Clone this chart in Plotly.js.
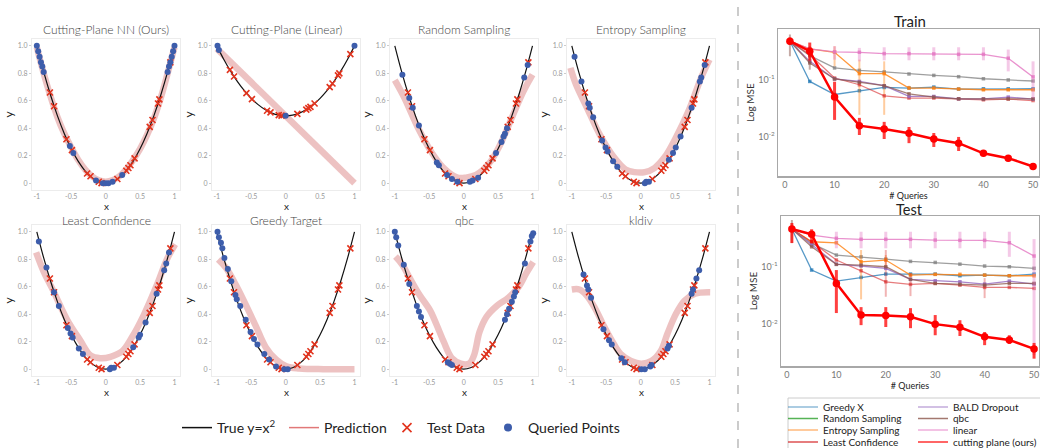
<!DOCTYPE html>
<html>
<head>
<meta charset="utf-8">
<script src="https://cdn.plot.ly/plotly-3.0.1.min.js"></script>
<style>html,body{margin:0;padding:0;background:#fff}#chart{width:1040px;height:448px}</style>
</head>
<body>
<div id="chart"></div>
<script>
// ---------------- DATA: left grid (toy regression y = x^2) ----------------
const curveX = [-1,-0.9,-0.8,-0.7,-0.6,-0.5,-0.4,-0.3,-0.2,-0.1,0,0.1,0.2,0.3,0.4,0.5,0.6,0.7,0.8,0.9,1];
const curveY = [1,0.81,0.64,0.49,0.36,0.25,0.16,0.09,0.04,0.01,0,0.01,0.04,0.09,0.16,0.25,0.36,0.49,0.64,0.81,1];
const curveYLinear = [1,0.903,0.816,0.74,0.674,0.618,0.572,0.536,0.51,0.495,0.49,0.495,0.51,0.536,0.572,0.618,0.674,0.74,0.816,0.903,1];

const testX = [-0.81,-0.75,-0.57,-0.49,-0.27,-0.22,-0.1,-0.06,0.17,0.3,0.33,0.36,0.42,0.64,0.68,0.76,0.78,0.94];
const testY = [0.66,0.56,0.32,0.24,0.07,0.05,0.01,0.0,0.03,0.09,0.11,0.13,0.18,0.41,0.46,0.58,0.61,0.88];
const testYLinear = [0.825,0.777,0.656,0.612,0.527,0.515,0.495,0.492,0.505,0.536,0.546,0.556,0.58,0.699,0.726,0.785,0.8,0.94];

const cpnnQueriedX = [-1,-0.98,-0.96,-0.94,-0.92,-0.9,-0.52,-0.47,-0.14,-0.04,0,0.04,0.1,0.24,0.9,0.92,0.94,0.96,0.98,1];
const cpnnQueriedY = [1,0.96,0.92,0.88,0.85,0.81,0.27,0.22,0.02,0,0,0,0.01,0.06,0.81,0.85,0.88,0.92,0.96,1];
const cpnnPredX = [-1,-0.9,-0.8,-0.7,-0.6,-0.5,-0.4,-0.3,-0.2,-0.1,0,0.1,0.2,0.3,0.4,0.5,0.6,0.7,0.8,0.9,1];
const cpnnPredY = [0.99,0.8,0.63,0.48,0.36,0.26,0.17,0.1,0.05,0.02,0.01,0.02,0.05,0.1,0.17,0.25,0.35,0.47,0.62,0.8,0.99];

const linQueriedX = [-0.99,-0.97,0,1];
const linQueriedY = [1.0,0.97,0.49,1.0];
const linPredX = [-1,1];
const linPredY = [0.98,0];

const randQueriedX = [-0.89,-0.79,-0.74,-0.65,-0.39,-0.36,-0.24,-0.17,-0.09,0.09,0.13,0.21,0.47,0.55,0.58,0.6,0.63,0.88,0.93];
const randQueriedY = [0.79,0.62,0.55,0.42,0.15,0.13,0.06,0.03,0.01,0.01,0.02,0.04,0.22,0.3,0.34,0.36,0.4,0.77,0.86];
const randPredX = [-1,-0.86,-0.66,-0.46,-0.27,-0.09,0.03,0.18,0.38,0.53,0.72,0.87,1.0];
const randPredY = [0.75,0.62,0.4,0.22,0.1,0.04,0.04,0.06,0.15,0.28,0.5,0.67,0.79];

const entQueriedX = [-0.96,-0.86,-0.76,-0.74,-0.69,-0.56,-0.51,-0.48,-0.4,-0.34,0.06,0.08,0.12,0.41,0.47,0.51,0.58,0.74,0.86,0.88,0.93];
const entQueriedY = [0.92,0.74,0.58,0.55,0.48,0.31,0.26,0.23,0.16,0.12,0.0,0.01,0.01,0.17,0.22,0.26,0.34,0.55,0.74,0.77,0.86];
const entPredX = [-1.02,-0.94,-0.79,-0.59,-0.39,-0.22,-0.09,0.06,0.2,0.35,0.5,0.7,0.88,1.0];
const entPredY = [0.84,0.72,0.56,0.35,0.19,0.1,0.08,0.08,0.11,0.19,0.32,0.53,0.77,0.9];

const lcQueriedX = [-0.97,-0.86,-0.75,-0.68,-0.55,-0.51,-0.48,-0.39,-0.33,0.06,0.08,0.12,0.4,0.48,0.5,0.58,0.74,0.85,0.88,0.92];
const lcQueriedY = [0.93,0.74,0.56,0.46,0.3,0.26,0.23,0.15,0.11,0,0.01,0.01,0.16,0.23,0.25,0.34,0.55,0.72,0.77,0.85];
const lcPredX = [-1.01,-0.9,-0.76,-0.56,-0.37,-0.22,-0.08,0.07,0.24,0.38,0.55,0.75,0.89,1.01];
const lcPredY = [0.85,0.71,0.57,0.36,0.21,0.1,0.08,0.09,0.13,0.23,0.39,0.62,0.8,0.91];

const gtQueriedX = [-0.99,-0.97,-0.94,-0.92,-0.89,-0.84,-0.79,-0.73,-0.71,-0.66,-0.58,-0.51,-0.46,-0.41,-0.31,-0.24,-0.14,-0.02,0.03];
const gtQueriedY = [1.0,0.96,0.92,0.88,0.81,0.73,0.64,0.54,0.51,0.46,0.36,0.27,0.22,0.18,0.11,0.07,0.02,0,0];
const gtPredX = [-0.98,-0.87,-0.73,-0.58,-0.43,-0.29,-0.14,0.01,0.2,0.55,1.0];
const gtPredY = [0.8,0.74,0.62,0.47,0.31,0.16,0.07,0.02,0.005,0,0];

const qbcQueriedX = [-1,-0.98,-0.95,-0.87,-0.79,-0.68,-0.65,-0.62,-0.23,-0.2,-0.17,0.6,0.63,0.66,0.7,0.73,0.75,0.89,0.97,0.99,1.01];
const qbcQueriedY = [1,0.96,0.9,0.76,0.62,0.46,0.42,0.38,0.05,0.04,0.03,0.36,0.4,0.44,0.49,0.53,0.56,0.77,0.93,0.97,0.99];
const qbcPredX = [-0.99,-0.89,-0.79,-0.64,-0.49,-0.39,-0.29,-0.17,-0.04,0.08,0.15,0.23,0.33,0.48,0.65,0.8,0.9,1.01];
const qbcPredY = [0.82,0.76,0.67,0.54,0.43,0.32,0.2,0.08,0.04,0.04,0.1,0.27,0.38,0.46,0.52,0.6,0.69,0.78];

const kldQueriedX = [-0.83,-0.78,-0.76,-0.72,-0.54,-0.46,-0.42,-0.28,-0.23,0.01,0.06,0.14,0.16,0.39,0.41,0.74,0.76,0.81,0.85];
const kldQueriedY = [0.69,0.61,0.58,0.52,0.29,0.21,0.18,0.08,0.05,0,0,0.02,0.03,0.15,0.17,0.55,0.58,0.66,0.72];
const kldPredX = [-1,-0.89,-0.79,-0.67,-0.54,-0.42,-0.29,-0.14,0.01,0.16,0.29,0.39,0.51,0.64,0.79,1.01];
const kldPredY = [0.58,0.58,0.54,0.45,0.32,0.21,0.11,0.06,0.04,0.06,0.13,0.26,0.4,0.5,0.55,0.56];

const panelTitles = ['Cutting-Plane NN (Ours)','Cutting-Plane (Linear)','Random Sampling','Entropy Sampling','Least Confidence','Greedy Target','qbc','kldiv'];
const xTickVals = [-1,-0.5,0,0.5,1];
const xTickText = ['-1','-0.5','0','0.5','1'];
const yTickVals = [0,0.2,0.4,0.6,0.8,1];
const yTickText = ['0','0.2','0.4','0.6','0.8','1.0'];

// ---------------- DATA: right panels (Log MSE vs # queries) ----------------
const queries = [1,5,10,15,20,25,30,35,40,45,50];
const seriesNames = ['Greedy X','Random Sampling','Entropy Sampling','Least Confidence','BALD Dropout','qbc','linear','cutting plane (ours)'];

const trainGreedyX   = [0.474,0.0933,0.055,0.064,0.0731,0.0714,0.0743,0.0686,0.0694,0.0694,0.0694];
const trainRandom    = [0.474,0.265,0.161,0.146,0.137,0.126,0.119,0.113,0.104,0.099,0.095];
const trainEntropy   = [0.474,0.348,0.303,0.128,0.128,0.0714,0.0714,0.0686,0.0666,0.0666,0.0666];
const trainEntropyHi = [0.474,0.348,0.387,0.225,0.21,0.0784,0.0714,0.0686,0.0666,0.0666,0.0666];
const trainEntropyLo = [0.474,0.348,0.172,0.0242,0.0242,0.0666,0.0714,0.0686,0.0666,0.0666,0.0666];
const trainLeastConf = [0.474,0.276,0.107,0.0816,0.0522,0.0476,0.0476,0.0462,0.0444,0.0457,0.0431];
const trainBald      = [0.474,0.21,0.103,0.0933,0.0784,0.0508,0.0508,0.0462,0.0462,0.0495,0.0457];
const trainQbc       = [0.474,0.197,0.103,0.0896,0.0784,0.0566,0.0495,0.0462,0.0457,0.0462,0.0462];
const trainQbcHi     = [0.622,0.387,0.103,0.0896,0.0784,0.0566,0.0495,0.0462,0.0457,0.0462,0.0462];
const trainQbcLo     = [0.258,0.15,0.103,0.0896,0.0784,0.0566,0.0495,0.0462,0.0457,0.0462,0.0462];
const trainLinear    = [0.474,0.348,0.308,0.303,0.287,0.287,0.284,0.279,0.279,0.238,0.112];
const trainLinearHi  = [0.474,0.36,0.387,0.362,0.371,0.371,0.371,0.371,0.371,0.338,0.21];
const trainLinearLo  = [0.474,0.33,0.225,0.21,0.219,0.219,0.219,0.219,0.219,0.14,0.0476];
const trainCutting   = [0.474,0.316,0.0495,0.0156,0.0137,0.0115,0.0091,0.0077,0.0051,0.0042,0.003];
const trainCuttingHi = [0.55,0.449,0.0922,0.0214,0.0182,0.0148,0.0116,0.0099,0.0056,0.0044,0.0034];
const trainCuttingLo = [0.414,0.216,0.0197,0.0107,0.0091,0.0077,0.0066,0.0056,0.0046,0.0037,0.0027];

const testGreedyX    = [0.455,0.0876,0.0563,0.0653,0.0746,0.0746,0.0746,0.0697,0.0716,0.0697,0.0746];
const testRandom     = [0.455,0.256,0.16,0.149,0.136,0.124,0.119,0.111,0.103,0.1,0.094];
const testEntropy    = [0.455,0.273,0.262,0.122,0.131,0.0716,0.0737,0.0737,0.0716,0.0697,0.0697];
const testEntropyHi  = [0.455,0.273,0.262,0.196,0.16,0.0716,0.0737,0.0737,0.0716,0.0697,0.0697];
const testEntropyLo  = [0.455,0.273,0.262,0.027,0.103,0.0716,0.0737,0.0737,0.0716,0.0697,0.0697];
const testLeastConf  = [0.455,0.273,0.131,0.0851,0.0547,0.0493,0.0513,0.0479,0.0437,0.0437,0.042];
const testLeastConfHi= [0.455,0.273,0.131,0.0851,0.196,0.0776,0.0513,0.0479,0.0635,0.0437,0.042];
const testLeastConfLo= [0.455,0.273,0.131,0.0851,0.03,0.0308,0.0513,0.0479,0.0284,0.0437,0.042];
const testBald       = [0.455,0.239,0.111,0.103,0.094,0.0603,0.057,0.0547,0.0499,0.0563,0.0499];
const testQbc        = [0.455,0.223,0.11,0.107,0.1,0.0603,0.0513,0.0493,0.0479,0.0513,0.0513];
const testQbcHi      = [0.653,0.223,0.11,0.107,0.1,0.0603,0.0513,0.0493,0.0479,0.0513,0.0513];
const testQbcLo      = [0.259,0.223,0.11,0.107,0.1,0.0603,0.0513,0.0493,0.0479,0.0513,0.0513];
const testLinear     = [0.455,0.357,0.313,0.301,0.301,0.301,0.292,0.289,0.289,0.262,0.154];
const testLinearHi   = [0.455,0.357,0.408,0.408,0.408,0.408,0.408,0.408,0.408,0.408,0.304];
const testLinearLo   = [0.455,0.357,0.21,0.21,0.21,0.21,0.21,0.21,0.21,0.149,0.0029];
const testCutting    = [0.455,0.3675,0.0513,0.0144,0.0142,0.0134,0.01,0.0088,0.006,0.0053,0.0037];
const testCuttingHi  = [0.579,0.45,0.0876,0.0198,0.0198,0.019,0.0144,0.0117,0.0073,0.0064,0.0047];
const testCuttingLo  = [0.259,0.2565,0.0156,0.0096,0.0089,0.0085,0.0064,0.0062,0.0043,0.0045,0.0025];

// ---------------- STYLE / LAYOUT ----------------
const W = 1040, H = 448;
const RED = '#e2331d', BLUE = '#3d5dab', PRED = 'rgba(215,120,120,0.45)';
const colPx = [[32,180],[212,360],[390,538],[567,715]];
const rowPx = [[39,190],[225,376]];
const titleYPx = [30, 220.5];
const xLabelYPx = [205.5, 392];

const panels = [
  {cx:curveX, cy:curveY, px:cpnnPredX, py:cpnnPredY, tx:testX, ty:testY, qx:cpnnQueriedX, qy:cpnnQueriedY},
  {cx:curveX, cy:curveYLinear, px:linPredX, py:linPredY, tx:testX, ty:testYLinear, qx:linQueriedX, qy:linQueriedY},
  {cx:curveX, cy:curveY, px:randPredX, py:randPredY, tx:testX, ty:testY, qx:randQueriedX, qy:randQueriedY},
  {cx:curveX, cy:curveY, px:entPredX, py:entPredY, tx:testX, ty:testY, qx:entQueriedX, qy:entQueriedY},
  {cx:curveX, cy:curveY, px:lcPredX, py:lcPredY, tx:testX, ty:testY, qx:lcQueriedX, qy:lcQueriedY},
  {cx:curveX, cy:curveY, px:gtPredX, py:gtPredY, tx:testX, ty:testY, qx:gtQueriedX, qy:gtQueriedY},
  {cx:curveX, cy:curveY, px:qbcPredX, py:qbcPredY, tx:testX, ty:testY, qx:qbcQueriedX, qy:qbcQueriedY},
  {cx:curveX, cy:curveY, px:kldPredX, py:kldPredY, tx:testX, ty:testY, qx:kldQueriedX, qy:kldQueriedY}
];

const traces = [];
const layout = {
  width: W, height: H,
  margin: {l:0, r:0, t:0, b:0, autoexpand:false},
  paper_bgcolor: '#fff', plot_bgcolor: '#fff',
  font: {family: 'Lato, "Open Sans", sans-serif', color: '#333'},
  showlegend: true,
  annotations: [], shapes: []
};

panels.forEach((p, i) => {
  const n = i === 0 ? '' : String(i + 1);
  const xa = 'x' + n, ya = 'y' + n;
  const row = Math.floor(i / 4);
  const c = colPx[i % 4], r = rowPx[row];
  layout['xaxis' + n] = {
    domain: [c[0] / W, c[1] / W], anchor: ya, range: [-1.07, 1.08],
    tickvals: xTickVals, ticktext: xTickText, tickfont: {size: 7, color: '#999'},
    ticks: '', showgrid: false, zeroline: false,
    showline: true, mirror: true, linecolor: '#ececec', linewidth: 1
  };
  layout['yaxis' + n] = {
    domain: [1 - r[1] / H, 1 - r[0] / H], anchor: xa, range: [-0.05, 1.05],
    tickvals: yTickVals, ticktext: yTickText, tickfont: {size: 7, color: '#999'},
    ticks: 'outside', ticklen: 2, tickcolor: '#ccc', showgrid: false, zeroline: false,
    showline: true, mirror: true, linecolor: '#ececec', linewidth: 1,
    title: {text: 'y', font: {size: 12, color: '#222'}, standoff: 1}
  };
  layout.annotations.push({
    text: panelTitles[i], xref: 'paper', yref: 'paper',
    x: (c[0] + c[1]) / 2 / W, y: 1 - titleYPx[row] / H,
    xanchor: 'center', yanchor: 'middle', showarrow: false, borderpad: 0,
    font: {size: 12, color: '#444', weight: 300}
  });
  // x-axis label placed just under the tick labels
  layout.annotations.push({
    text: 'x', xref: 'paper', yref: 'paper',
    x: (c[0] + c[1]) / 2 / W, y: 1 - xLabelYPx[row] / H,
    xanchor: 'center', yanchor: 'middle', showarrow: false, borderpad: 0,
    font: {size: 10, color: '#222'}
  });
  traces.push({type:'scatter', mode:'lines', x:p.px, y:p.py, xaxis:xa, yaxis:ya,
    line:{color:PRED, width:6.5, shape:'spline'}, showlegend:false, hoverinfo:'skip'});
  traces.push({type:'scatter', mode:'lines', x:p.cx, y:p.cy, xaxis:xa, yaxis:ya,
    line:{color:'#111', width:1.2, shape:'spline'}, showlegend:false, hoverinfo:'skip'});
  traces.push({type:'scatter', mode:'markers', x:p.tx, y:p.ty, xaxis:xa, yaxis:ya,
    marker:{symbol:'x-thin', size:6, color:RED, line:{width:1.6, color:RED}}, showlegend:false, hoverinfo:'skip'});
  traces.push({type:'scatter', mode:'markers', x:p.qx, y:p.qy, xaxis:xa, yaxis:ya,
    marker:{symbol:'circle', size:6, color:BLUE}, showlegend:false, hoverinfo:'skip'});
});

// left-bottom legend entries (legend-only traces)
traces.push({type:'scatter', mode:'lines', x:[null], y:[null], name:'True y=x<sup>2</sup>', legend:'legend', legendwidth:62, line:{color:'#111', width:1.5}});
traces.push({type:'scatter', mode:'lines', x:[null], y:[null], name:'Prediction', legend:'legend', legendwidth:58, line:{color:'rgb(225,120,120)', width:1.5}});
traces.push({type:'scatter', mode:'markers', x:[null], y:[null], name:'Test Data', legend:'legend', legendwidth:56, marker:{symbol:'x-thin', size:9, color:RED, line:{width:1.6, color:RED}}});
traces.push({type:'scatter', mode:'markers', x:[null], y:[null], name:'Queried Points', legend:'legend', legendwidth:100, marker:{symbol:'circle', size:8, color:BLUE}});

layout.legend = {orientation:'h', x:177 / W, xanchor:'left', y:1 - 428 / H, yanchor:'middle',
  font:{size:14, color:'#222'}, bgcolor:'rgba(0,0,0,0)', itemwidth:30};

// ---------------- right panels ----------------
const lineColors = ['rgba(31,119,180,0.75)','rgba(127,127,127,0.75)','rgba(255,127,14,0.8)','rgba(214,39,40,0.6)','rgba(148,103,189,0.8)','rgba(140,86,75,0.75)','rgba(227,119,194,0.8)','rgb(255,0,0)'];
const legendColors = ['rgba(31,119,180,0.5)','rgba(44,160,44,0.8)','rgba(255,127,14,0.55)','rgba(214,39,40,0.8)','rgba(148,103,189,0.55)','rgba(140,86,75,0.8)','rgba(227,119,194,0.6)','rgba(255,0,0,0.8)'];
const barColors = ['rgba(31,119,180,0.4)','rgba(127,127,127,0.4)','rgba(255,127,14,0.4)','rgba(214,39,40,0.35)','rgba(148,103,189,0.4)','rgba(140,86,75,0.5)','rgba(227,119,194,0.4)','rgba(255,0,0,0.75)'];

const trainSeries = [
  {y:trainGreedyX}, {y:trainRandom}, {y:trainEntropy, hi:trainEntropyHi, lo:trainEntropyLo},
  {y:trainLeastConf}, {y:trainBald}, {y:trainQbc, hi:trainQbcHi, lo:trainQbcLo},
  {y:trainLinear, hi:trainLinearHi, lo:trainLinearLo}, {y:trainCutting, hi:trainCuttingHi, lo:trainCuttingLo}
];
const testSeries = [
  {y:testGreedyX}, {y:testRandom}, {y:testEntropy, hi:testEntropyHi, lo:testEntropyLo},
  {y:testLeastConf, hi:testLeastConfHi, lo:testLeastConfLo}, {y:testBald}, {y:testQbc, hi:testQbcHi, lo:testQbcLo},
  {y:testLinear, hi:testLinearHi, lo:testLinearLo}, {y:testCutting, hi:testCuttingHi, lo:testCuttingLo}
];

function addSeries(list, xa, ya) {
  list.forEach((s, k) => {
    const ours = k === 7;
    const t = {type:'scatter', mode:'lines+markers', x:queries, y:s.y, xaxis:xa, yaxis:ya,
      name: seriesNames[k], showlegend:false, hoverinfo:'skip',
      line:{color:lineColors[k], width: ours ? 2.5 : 1.3},
      marker:{color:lineColors[k], size: ours ? 7.5 : 3.5, symbol: ours ? 'circle' : 'square'}};
    if (s.hi) {
      t.error_y = {type:'data', symmetric:false,
        array: s.hi.map((h, j) => h - s.y[j]), arrayminus: s.lo.map((l, j) => s.y[j] - l),
        color: barColors[k], thickness: (ours || k === 6) ? 3 : 2, width: 0};
    }
    traces.push(t);
  });
}
addSeries(trainSeries, 'x9', 'y9');
addSeries(testSeries, 'x10', 'y10');

function rightX(dom, anchor, rng) {
  return {domain: dom, anchor: anchor, range: rng, tickvals:[0,10,20,30,40,50],
    tickfont:{size:9, color:'#777'}, ticks:'', showgrid:false, zeroline:false,
    showline:true, mirror:true, linecolor:'#a8a8a8', linewidth:1.5,
    title:{text:'# Queries', font:{size:9, color:'#222'}, standoff:2}};
}
function rightY(dom, anchor, rng) {
  return {domain: dom, anchor: anchor, type:'log', range: rng,
    tickvals:[0.01, 0.1], ticktext:['10<sup>-2</sup>','10<sup>-1</sup>'],
    tickfont:{size:9, color:'#777'}, ticks:'', showgrid:false, zeroline:false,
    showline:true, mirror:true, linecolor:'#a8a8a8', linewidth:1.5,
    title:{text:'Log MSE', font:{size:10, color:'#333'}, standoff:1}};
}
layout.xaxis9 = rightX([778 / W, 1039 / W], 'y9', [-1.4, 51.2]);
layout.yaxis9 = rightY([1 - 176 / H, 1 - 29 / H], 'x9', [-2.69, -0.11]);
layout.xaxis10 = rightX([781 / W, 1039 / W], 'y10', [-1.2, 51]);
layout.yaxis10 = rightY([1 - 366 / H, 1 - 216 / H], 'x10', [-2.73, -0.115]);

layout.annotations.push({text:'Train', xref:'paper', yref:'paper', x:910 / W, y:1 - 21 / H,
  xanchor:'center', yanchor:'middle', showarrow:false, borderpad:0, font:{size:15, color:'#222'}});
layout.annotations.push({text:'Test', xref:'paper', yref:'paper', x:909 / W, y:1 - 209 / H,
  xanchor:'center', yanchor:'middle', showarrow:false, borderpad:0, font:{size:14.5, color:'#222'}});

// right legend: 4 rows x 2 columns (one horizontal legend per row)
const legendRows = [[0,4],[1,5],[2,6],[3,7]];
const rowCentersPx = [407, 418.5, 430, 442];
legendRows.forEach((pair, r) => {
  const id = 'legend' + (r + 2);
  pair.forEach(k => {
    traces.push({type:'scatter', mode:'lines', x:[null], y:[null], xaxis:'x9', yaxis:'y9',
      name: seriesNames[k], legend:id, legendwidth:85,
      line:{color:legendColors[k], width:1.5}});
  });
  layout[id] = {orientation:'h', x:783 / W, xanchor:'left', y:1 - rowCentersPx[r] / H, yanchor:'middle',
    font:{size:10, color:'#222'}, bgcolor:'rgba(0,0,0,0)', itemwidth:30};
});

layout.shapes.push({type:'rect', xref:'paper', yref:'paper', x0:788 / W, x1:1.01, y0:-0.05, y1:1 - 398 / H,
  line:{color:'#cccccc', width:1}, fillcolor:'rgba(0,0,0,0)'});
layout.shapes.push({type:'line', xref:'paper', yref:'paper', x0:738 / W, x1:738 / W, y0:0, y1:1,
  line:{color:'#aaaaaa', width:1.2, dash:'dash'}});

Plotly.newPlot('chart', traces, layout, {staticPlot:true, displayModeBar:false});
</script>
</body>
</html>
